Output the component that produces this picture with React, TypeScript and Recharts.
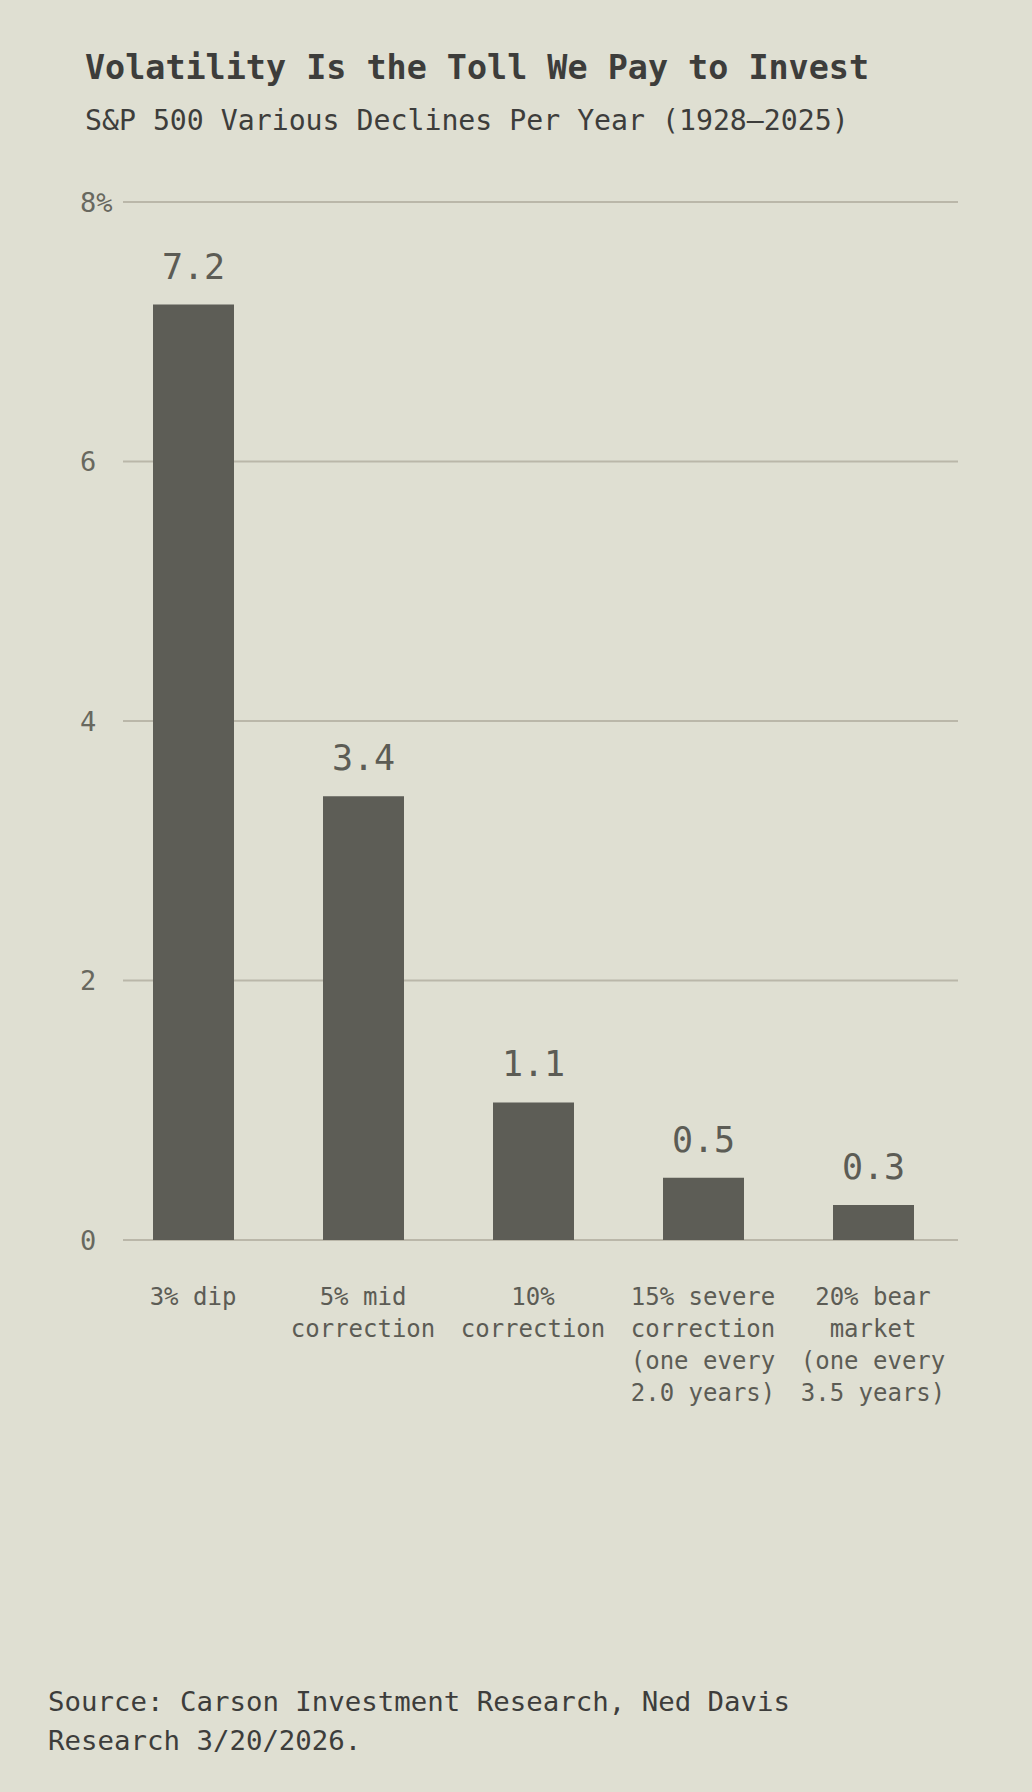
import { BarChart, Bar, XAxis, YAxis, CartesianGrid, LabelList } from 'recharts';

const categories = ['3% dip', '5% mid correction', '10% correction', '15% severe correction', '20% bear market'];
const categoryLines = [
  ['3% dip'],
  ['5% mid', 'correction'],
  ['10%', 'correction'],
  ['15% severe', 'correction', '(one every', '2.0 years)'],
  ['20% bear', 'market', '(one every', '3.5 years)'],
];
const declinesPerYear = [7.21, 3.42, 1.06, 0.48, 0.27];
const yTicks = [0, 2, 4, 6, 8];

const data = categories.map((name, i) => ({ name, idx: i, value: declinesPerYear[i] }));

const FONT = '"DejaVu Sans Mono", "Liberation Mono", monospace';
const BG = '#dfdfd2';
const BAR = '#5d5d56';
const GRID = '#bab7a9';

const YTick = (props: any) => {
  const { y, payload } = props;
  const label = payload.value === 8 ? '8%' : String(payload.value);
  return (
    <text x={80} y={y} textAnchor="start" dominantBaseline="central" fill="#68685f" fontSize={27} fontFamily={FONT}>
      {label}
    </text>
  );
};

const XTick = (props: any) => {
  const { x, y, payload } = props;
  const lines = categoryLines[payload.index] || [payload.value];
  return (
    <text textAnchor="middle" fill="#5c5c55" fontSize={24} fontFamily={FONT}>
      {lines.map((line: string, i: number) => (
        <tspan key={i} x={x} y={y + 65 + i * 32}>
          {line}
        </tspan>
      ))}
    </text>
  );
};

const ValueLabel = (props: any) => {
  const { x, y, width, value } = props;
  return (
    <text x={x + width / 2} y={y - 26} textAnchor="middle" fill="#5c5c55" fontSize={35} fontFamily={FONT}>
      {Number(value).toFixed(1)}
    </text>
  );
};

export default function App() {
  return (
    <div style={{ position: 'absolute', left: 0, top: 0, width: 1032, height: 1792, background: BG, fontFamily: FONT, overflow: 'hidden' }}>
      <div style={{ position: 'absolute', left: 85, top: 48, fontSize: 33.4, fontWeight: 'bold', color: '#3d3d3b', whiteSpace: 'nowrap', lineHeight: '40px' }}>
        Volatility Is the Toll We Pay to Invest
      </div>
      <div style={{ position: 'absolute', left: 85, top: 103, fontSize: 28.2, color: '#3d3d3b', whiteSpace: 'nowrap', lineHeight: '36px' }}>
        S&amp;P 500 Various Declines Per Year (1928–2025)
      </div>
      <div style={{ position: 'absolute', left: 0, top: 0 }}>
        <BarChart width={1032} height={1450} data={data} margin={{ top: 202, right: 74, bottom: 10, left: 0 }}>
          <CartesianGrid x={123} width={835} vertical={false} stroke={GRID} strokeWidth={2} />
          <XAxis dataKey="name" height={200} axisLine={false} tickLine={false} tickSize={0} tickMargin={0} tick={<XTick />} interval={0} />
          <YAxis width={108} domain={[0, 8]} ticks={yTicks} axisLine={false} tickLine={false} tick={<YTick />} />
          <Bar dataKey="value" fill={BAR} barSize={81} isAnimationActive={false}>
            <LabelList dataKey="value" content={<ValueLabel />} />
          </Bar>
        </BarChart>
      </div>
      <div style={{ position: 'absolute', left: 48, top: 1682, fontSize: 27.4, color: '#3d3d3b', lineHeight: '39px', width: 900 }}>
        Source: Carson Investment Research, Ned Davis
        <br />
        Research 3/20/2026.
      </div>
    </div>
  );
}
